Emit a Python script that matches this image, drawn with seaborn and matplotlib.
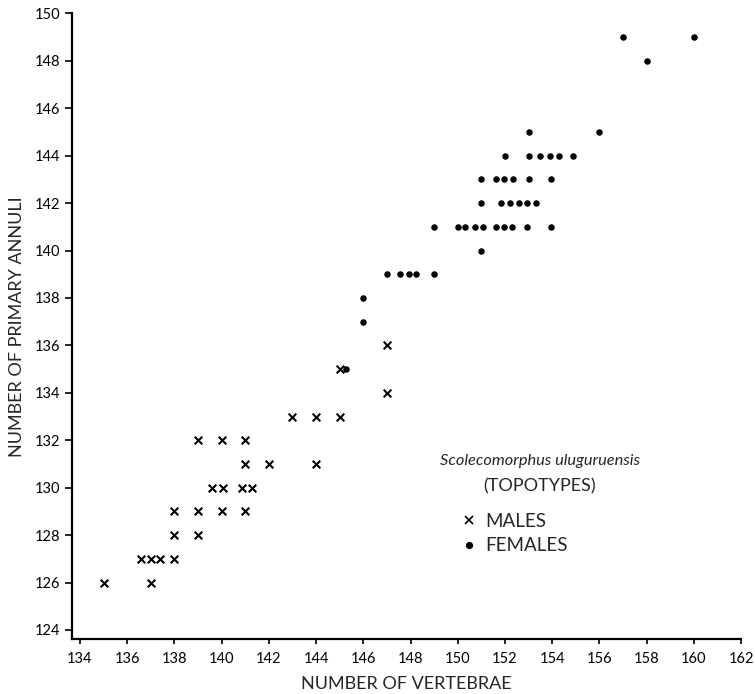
import matplotlib
matplotlib.use("Agg")
import matplotlib.pyplot as plt
from matplotlib.lines import Line2D
import seaborn as sns
import pandas as pd

# Males (x markers): vertebrae, primary annuli
male_vertebrae = [135, 137,
                  136.6, 137, 137.4, 138,
                  138, 139,
                  138, 139, 140, 141,
                  139.6, 140.05, 140.85, 141.3,
                  141, 142, 144,
                  139, 140, 141,
                  143, 144, 145,
                  147, 145, 147]
male_annuli = [126, 126,
               127, 127, 127, 127,
               128, 128,
               129, 129, 129, 129,
               130, 130, 130, 130,
               131, 131, 131,
               132, 132, 132,
               133, 133, 133,
               134, 135, 136]

# Females (dots)
female_vertebrae = [145.25, 146, 146,
                    147, 147.55, 147.95, 148.25, 149,
                    151,
                    149, 150, 150.3, 150.75, 151.05, 151.6, 151.95, 152.3, 152.95, 153.95,
                    151, 151.85, 152.2, 152.6, 152.95, 153.3,
                    151, 151.6, 151.95, 152.35, 153, 153.95,
                    152, 153, 153.5, 153.9, 154.3, 154.9,
                    153, 156,
                    158,
                    157, 160]
female_annuli = [135, 137, 138,
                 139, 139, 139, 139, 139,
                 140,
                 141, 141, 141, 141, 141, 141, 141, 141, 141, 141,
                 142, 142, 142, 142, 142, 142,
                 143, 143, 143, 143, 143, 143,
                 144, 144, 144, 144, 144, 144,
                 145, 145,
                 148,
                 149, 149]

x_ticks = list(range(134, 163, 2))
y_ticks = list(range(124, 151, 2))
legend_labels = ["MALES", "FEMALES"]
title_species = "Scolecomorphus uluguruensis"
title_sub = "(TOPOTYPES)"

males = pd.DataFrame({"vertebrae": male_vertebrae, "annuli": male_annuli})
females = pd.DataFrame({"vertebrae": female_vertebrae, "annuli": female_annuli})

sns.set_style("white")
plt.rcParams["font.family"] = ["Lato", "DejaVu Sans"]

fig = plt.figure(figsize=(7.55, 6.94), dpi=100)
ax = fig.add_axes([0.095, 0.0793, 0.8865, 0.9013])

sns.scatterplot(data=males, x="vertebrae", y="annuli", marker="x", s=30,
                color="black", linewidth=1.5, ax=ax)
sns.scatterplot(data=females, x="vertebrae", y="annuli", marker="o", s=22,
                color="black", edgecolor="black", linewidth=0, ax=ax)

ax.set_xlim(133.65, 162)
ax.set_ylim(123.62, 150)
ax.set_xticks(x_ticks)
ax.set_yticks(y_ticks)
ax.tick_params(axis="both", direction="out", width=1.2, color="black",
               labelsize=10.5, labelcolor="black", bottom=True, left=True)
ax.tick_params(axis="x", length=3.8, pad=5.5)
ax.tick_params(axis="y", length=5, pad=3)
for side in ["top", "right"]:
    ax.spines[side].set_visible(False)
for side in ["left", "bottom"]:
    ax.spines[side].set_color("black")
    ax.spines[side].set_linewidth(1.6)

ax.set_xlabel("NUMBER OF VERTEBRAE", fontsize=13, labelpad=7)
ax.set_ylabel("NUMBER OF PRIMARY ANNULI", fontsize=13, labelpad=7)

ax.text(0.6997, 0.2846, title_species, transform=ax.transAxes, ha="center",
        va="center", fontsize=11.8, style="italic")
ax.text(0.6997, 0.2446, title_sub, transform=ax.transAxes, ha="center",
        va="center", fontsize=13)

handles = [Line2D([], [], marker="x", linestyle="none", color="black",
                  markersize=5.5, markeredgewidth=1.2),
           Line2D([], [], marker="o", linestyle="none", color="black",
                  markersize=4.2)]
ax.legend(handles, legend_labels, loc="center left", bbox_to_anchor=(0.583, 0.1685),
          frameon=False, fontsize=13.5, handlelength=0.8, handletextpad=0.45,
          labelspacing=0.38, borderpad=0, borderaxespad=0)

fig.savefig("out.png", dpi=100)
